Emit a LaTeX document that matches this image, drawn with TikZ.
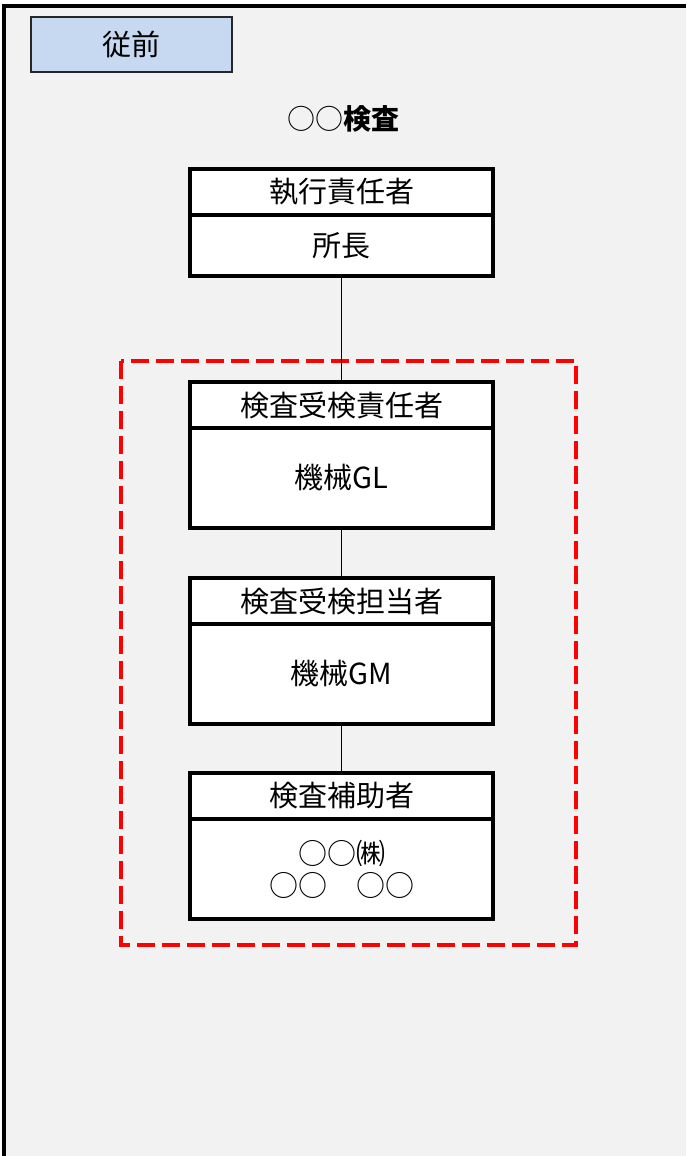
\documentclass[tikz,border=0pt]{standalone}
\usepackage{fontspec}
\setmainfont{Noto Sans CJK JP}
\definecolor{bgcol}{HTML}{F2F2F2}
\definecolor{tagcol}{HTML}{C6D9F0}
\definecolor{dashred}{HTML}{FF0000}
\begin{document}
\begin{tikzpicture}[x=1pt,y=-1pt,
  hdr/.style={draw=black,fill=white,line width=3.5pt,outer sep=0pt,minimum width=303pt,minimum height=46pt,inner sep=0pt,anchor=north,font=\fontsize{29}{32}\selectfont},
  bodybox/.style={draw=black,fill=white,line width=3.5pt,outer sep=0pt,minimum width=303pt,inner sep=0pt,anchor=north,align=center,font=\fontsize{29}{32}\selectfont},
  link/.style={draw=black,line width=1.3pt}]
\useasboundingbox (0,0) rectangle (686,1156);
\fill[white] (0,0) rectangle (686,1156);
\fill[bgcol] (4,6) rectangle (686,1156);
\draw[line width=4pt] (4,1156) -- (4,6) -- (686,6);
% tag
\node[draw=black!85,line width=1.5pt,fill=tagcol,minimum width=201pt,minimum height=55pt,inner sep=0pt,font=\fontsize{29}{32}\selectfont] (tag) at (131.5,44.5) {従前};
% title
\node[font=\fontsize{28}{30}\selectfont] (title) at (343,119) {○○\textbf{検査}};
% dashed frame
\draw[dashred,line width=4pt,dash pattern=on 18pt off 7pt] (121,361) rectangle (576,945);
% boxes
\node[hdr] (h1) at (341.5,169) {執行責任者};
\node[bodybox,minimum height=61pt] (b1) at (h1.south) {所長};
\node[hdr] (h2) at (341.5,382) {検査受検責任者};
\node[bodybox,minimum height=100pt] (b2) at (h2.south) {機械GL};
\node[hdr] (h3) at (341.5,578) {検査受検担当者};
\node[bodybox,minimum height=100pt] (b3) at (h3.south) {機械GM};
\node[hdr] (h4) at (341.5,773) {検査補助者};
\node[bodybox,minimum height=100pt] (b4) at (h4.south) {○○㈱\\○○　○○};
% connectors
\draw[link] (b1.south) -- (h2.north);
\draw[link] (b2.south) -- (h3.north);
\draw[link] (b3.south) -- (h4.north);
\end{tikzpicture}
\end{document}
